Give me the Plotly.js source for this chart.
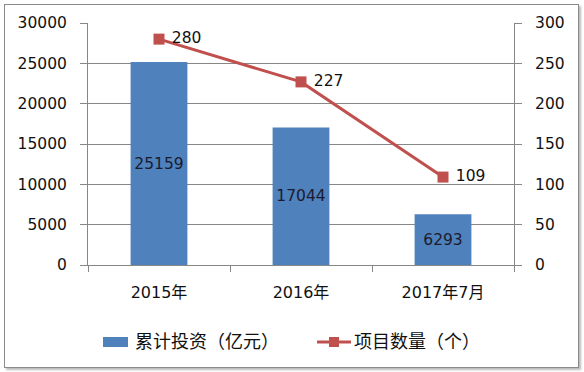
<!DOCTYPE html>
<html><head><meta charset="utf-8">
<script src="https://cdn.plot.ly/plotly-3.0.1.min.js"></script>
<style>
body{margin:0;background:#fff;}
#frame{position:absolute;left:4px;top:4px;width:573px;height:362px;border:1.5px solid #8a8a8a;box-shadow:2px 2px 2px #bbb;}
#chart{position:absolute;left:0;top:0;width:584px;height:372px;}
</style></head>
<body>
<div id="frame"></div>
<div id="chart"></div>
<script>
const categories = ["2015年", "2016年", "2017年7月"];
const investment = [25159, 17044, 6293];
const projects = [280, 227, 109];
const seriesNames = ["累计投资（亿元）", "项目数量（个）"];

const FONT = "DejaVu Sans, Noto Sans CJK SC, sans-serif";
const L = 88, R = 514, T = 23, B = 265;
const px = x => (x - L) / (R - L);
const py = y => (B - y) / (B - T);

const traces = [
  {type:'bar', x:categories, y:investment, name:seriesNames[0], marker:{color:'#4F81BD'},
   width:0.4, text:investment.map(String), textposition:'inside', insidetextanchor:'middle',
   textfont:{family:FONT,size:15.5,color:'#1b1b2e'}, cliponaxis:false, hoverinfo:'skip'},
  {type:'scatter', mode:'lines+markers+text', x:categories, y:projects, yaxis:'y2', name:seriesNames[1],
   line:{color:'#C0504D',width:3}, marker:{symbol:'square',size:11,color:'#C0504D'},
   text:projects.map(v=>' '+v), textposition:'middle right', textfont:{family:FONT,size:15.5,color:'#111'},
   cliponaxis:false, hoverinfo:'skip'}
];

const layout = {
  width:584, height:372, showlegend:false,
  paper_bgcolor:'rgba(0,0,0,0)', plot_bgcolor:'rgba(0,0,0,0)',
  margin:{l:L, r:584-R, t:T, b:372-B},
  font:{family:FONT,size:15.5,color:'#111'},
  xaxis:{type:'category', showline:true, linecolor:'#878787', linewidth:1, ticks:'outside', tickson:'boundaries',
    ticklen:6, tickcolor:'#878787', ticklabelstandoff:13, showgrid:false, tickfont:{family:FONT,size:16,color:'#111'},
    zeroline:false},
  yaxis:{range:[0,30000], dtick:5000, tickformat:'d', showline:true, linecolor:'#878787', ticks:'outside', ticklen:7,
    tickcolor:'#878787', gridcolor:'#878787', gridwidth:1, zeroline:false, ticklabelstandoff:10,
    tickfont:{family:FONT,size:15.5,color:'#111'}},
  yaxis2:{range:[0,300], dtick:50, tickformat:'d', overlaying:'y', side:'right', showline:true, linecolor:'#878787',
    ticks:'outside', ticklen:7, tickcolor:'#878787', showgrid:false, zeroline:false, ticklabelstandoff:10,
    tickfont:{family:FONT,size:15.5,color:'#111'}},
  bargap:0.6,
  shapes:[
    {type:'rect', xref:'paper', yref:'paper', x0:px(103), x1:px(128), y0:py(347), y1:py(337),
     fillcolor:'#4F81BD', line:{width:0}},
    {type:'line', xref:'paper', yref:'paper', x0:px(317), x1:px(351), y0:py(342), y1:py(342),
     line:{color:'#C0504D', width:3}},
    {type:'rect', xref:'paper', yref:'paper', x0:px(329), x1:px(339), y0:py(347), y1:py(337),
     fillcolor:'#C0504D', line:{width:0}}
  ],
  annotations:[
    {xref:'paper', yref:'paper', x:px(133), y:py(341), xanchor:'left', yanchor:'middle', showarrow:false,
     text:seriesNames[0], font:{family:FONT,size:18,color:'#111'}},
    {xref:'paper', yref:'paper', x:px(352), y:py(341), xanchor:'left', yanchor:'middle', showarrow:false,
     text:seriesNames[1], font:{family:FONT,size:18,color:'#111'}}
  ]
};
Plotly.newPlot('chart', traces, layout, {displayModeBar:false, staticPlot:true});
</script>
</body></html>
